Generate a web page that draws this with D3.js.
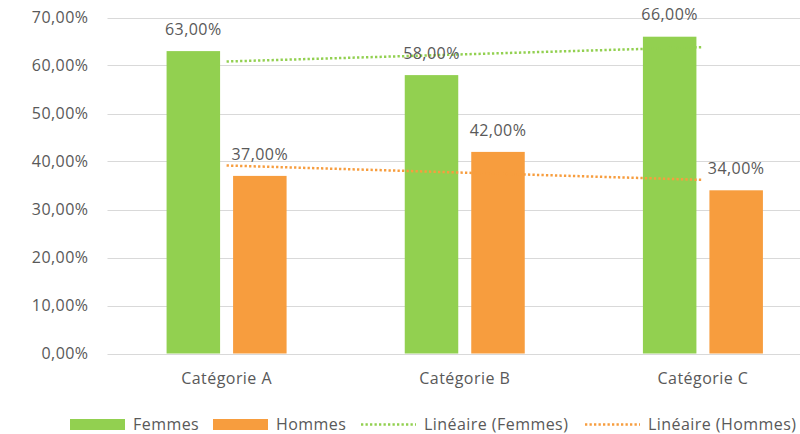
<!DOCTYPE html>
<html>
<head>
<meta charset="utf-8">
<script src="https://cdn.jsdelivr.net/npm/d3@7"></script>
<style>
  body { margin: 0; background: #fff; }
  svg { display: block; font-family: "Open Sans", "Noto Sans", sans-serif; }
</style>
</head>
<body>
<div id="chart"></div>
<script>
// chart values
var categories = ["Catégorie A", "Catégorie B", "Catégorie C"];
var seriesNames = ["Femmes", "Hommes"];
var femmes = [0.63, 0.58, 0.66];
var hommes = [0.37, 0.42, 0.34];
var yTicks = [0, 0.1, 0.2, 0.3, 0.4, 0.5, 0.6, 0.7];
var legendLabels = ["Femmes", "Hommes", "Linéaire (Femmes)", "Linéaire (Hommes)"];

var colors = { Femmes: "#92d050", Hommes: "#f79d3e" };
var textColor = "#595959";
var gridColor = "#d9d9d9";
var fontSize = 16;
var spacing = "0.45px";

var width = 800, height = 434;
var plot = { left: 107.5, right: 822, top: 17.5, bottom: 353.5 };

var fr = d3.formatLocale({ decimal: ",", thousands: " ", grouping: [3], currency: ["", " €"] });
var pct = fr.format(".2%");

var svg = d3.select("#chart").append("svg")
  .attr("width", width)
  .attr("height", height);

var x = d3.scaleBand().domain(categories).range([plot.left, plot.right]);
var groupW = 120;
var xs = d3.scaleBand().domain(seriesNames)
  .range([(x.bandwidth() - groupW) / 2, (x.bandwidth() + groupW) / 2])
  .paddingInner(0.1955);
var y = d3.scaleLinear().domain([0, 0.7]).range([plot.bottom, plot.top]);

// gridlines
svg.append("g").selectAll("line").data(yTicks).join("line")
  .attr("x1", plot.left).attr("x2", plot.right)
  .attr("y1", function (d) { return Math.round(y(d)) + 0.5; })
  .attr("y2", function (d) { return Math.round(y(d)) + 0.5; })
  .attr("stroke", gridColor).attr("stroke-width", 1);

// y axis labels
var gY = svg.append("g")
  .attr("transform", "translate(" + (plot.left - 19) + ",0)")
  .call(d3.axisLeft(y).tickValues(yTicks).tickFormat(pct).tickSize(0).tickPadding(0));
gY.select(".domain").remove();
gY.selectAll("text").attr("fill", textColor).attr("font-size", fontSize)
  .attr("letter-spacing", spacing)
  .attr("font-family", "\"Open Sans\", sans-serif");

// x axis labels
var gX = svg.append("g")
  .attr("transform", "translate(0," + plot.bottom + ")")
  .call(d3.axisBottom(x).tickSize(0).tickPadding(19));
gX.select(".domain").remove();
gX.selectAll("text").attr("fill", textColor).attr("font-size", fontSize)
  .attr("letter-spacing", spacing)
  .attr("font-family", "\"Open Sans\", sans-serif");

// bars
var rows = [];
categories.forEach(function (c, i) {
  rows.push({ cat: c, s: "Femmes", v: femmes[i] });
  rows.push({ cat: c, s: "Hommes", v: hommes[i] });
});

svg.append("g").selectAll("rect").data(rows).join("rect")
  .attr("x", function (d) { return x(d.cat) + xs(d.s); })
  .attr("y", function (d) { return y(d.v); })
  .attr("width", xs.bandwidth())
  .attr("height", function (d) { return y(0) - y(d.v); })
  .attr("fill", function (d) { return colors[d.s]; });

// trendlines (least squares on category index)
function fit(vals) {
  var n = vals.length, xm = (n - 1) / 2, ym = d3.mean(vals);
  var num = 0, den = 0;
  vals.forEach(function (v, i) { num += (i - xm) * (v - ym); den += (i - xm) * (i - xm); });
  var b = num / den;
  return vals.map(function (v, i) { return ym + b * (i - xm); });
}
var line = d3.line()
  .x(function (d, i) { return x(categories[i]) + x.bandwidth() / 2; })
  .y(function (d) { return y(d); });

[["Femmes", femmes], ["Hommes", hommes]].forEach(function (p) {
  svg.append("path")
    .datum(fit(p[1]))
    .attr("d", line)
    .attr("fill", "none")
    .attr("stroke", colors[p[0]])
    .attr("stroke-width", 2.5)
    .attr("stroke-dasharray", "2.3 2.2");
});

// data labels
svg.append("g").selectAll("text").data(rows).join("text")
  .attr("x", function (d) { return x(d.cat) + xs(d.s) + xs.bandwidth() / 2; })
  .attr("y", function (d) { return y(d.v) - 22; })
  .attr("dy", "0.35em")
  .attr("text-anchor", "middle")
  .attr("fill", textColor)
  .attr("font-size", fontSize)
  .attr("letter-spacing", spacing)
  .text(function (d) { return pct(d.v); });

// legend
var legend = svg.append("g").attr("transform", "translate(0,424.5)");
var legendX = [70, 213, 361, 585];
legendLabels.forEach(function (lab, i) {
  var g = legend.append("g").attr("transform", "translate(" + legendX[i] + ",0)");
  var col = i % 2 === 0 ? colors.Femmes : colors.Hommes;
  if (i < 2) {
    g.append("rect").attr("x", 0).attr("y", -5.5).attr("width", 55).attr("height", 11).attr("fill", col);
  } else {
    g.append("line").attr("x1", 0).attr("x2", 55).attr("y1", 0).attr("y2", 0)
      .attr("stroke", col).attr("stroke-width", 2.5).attr("stroke-dasharray", "2.3 2.2");
  }
  g.append("text").attr("x", 63).attr("y", 0).attr("dy", "0.35em")
    .attr("fill", textColor).attr("font-size", fontSize)
    .attr("letter-spacing", spacing).text(lab);
});
</script>
</body>
</html>
